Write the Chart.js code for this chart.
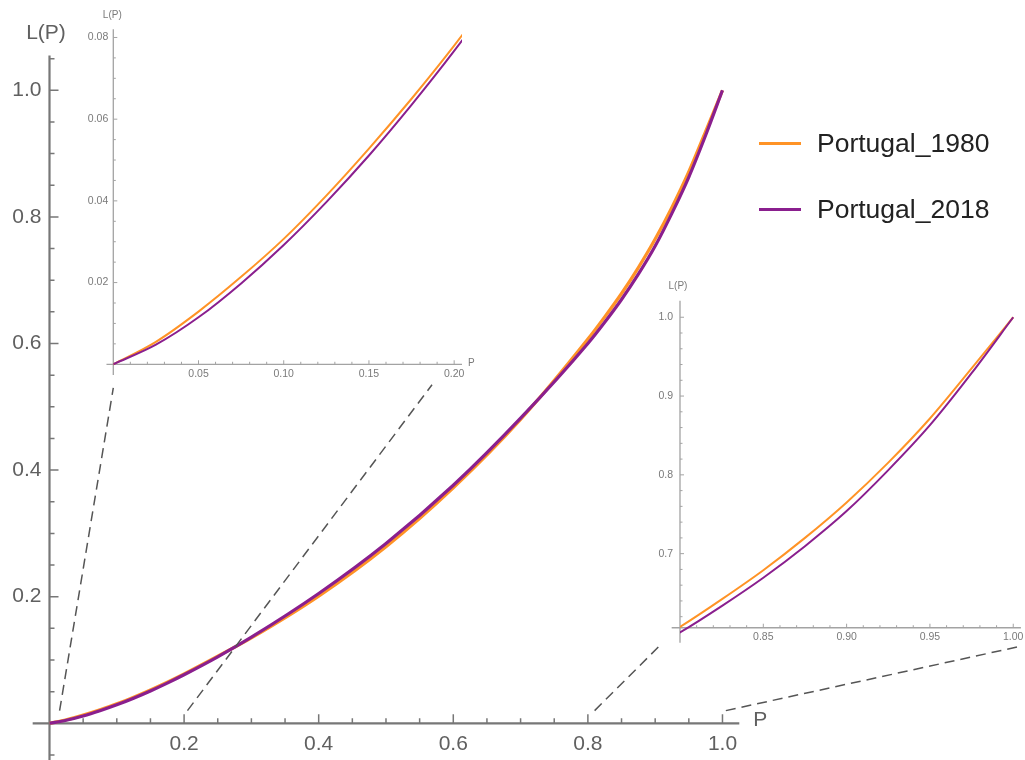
<!DOCTYPE html>
<html lang="en">
<head>
<meta charset="UTF-8">
<title>Lorenz curves - Portugal 1980 / 2018</title>
<script src="https://cdn.jsdelivr.net/npm/chart.js"></script>
<style>
  body { margin: 0; background: #fff; }
  #wrap { position: relative; width: 1025px; height: 760px; overflow: hidden; background: #fff; }
  #wrap canvas { position: absolute; }
  #legend { position: absolute; left: 759px; top: 110px; font-family: "Liberation Sans", Arial, sans-serif; font-size: 26.5px; color: #222; }
  #legend .item { display: flex; align-items: center; height: 66px; }
  #legend .swatch { width: 42px; height: 3px; margin-right: 16px; }
</style>
</head>
<body>
<div id="wrap">
  <canvas id="main" width="1025" height="760" style="left:0;top:0"></canvas>
  <canvas id="zoomLow" width="440" height="400" style="left:60px;top:0"></canvas>
  <canvas id="zoomHigh" width="405" height="390" style="left:620px;top:270px"></canvas>
  <div id="legend"></div>
</div>

<script>
    // cumulative population share P and cumulative income share L(P)
    const P = [0, 0.025, 0.05, 0.075, 0.1, 0.125, 0.15, 0.175, 0.2, 0.25, 0.3, 0.4, 0.5, 0.6, 0.7,
               0.8, 0.825, 0.85, 0.875, 0.9, 0.925, 0.95, 0.975, 1];
    const L_1980 = [0, 0.0055, 0.0129, 0.0214, 0.0307, 0.0413, 0.0528, 0.0650, 0.078, 0.106, 0.135, 0.201, 0.279, 0.372, 0.480,
                    0.607, 0.642, 0.679, 0.720, 0.765, 0.8155, 0.8715, 0.935, 1];
    const L_2018 = [0, 0.0048, 0.0115, 0.0198, 0.0292, 0.0397, 0.0511, 0.0635, 0.0767, 0.105, 0.136, 0.205, 0.284, 0.376, 0.482,
                    0.600, 0.6335, 0.6695, 0.7095, 0.754, 0.806, 0.863, 0.929, 1];

    const seriesNames = ['Portugal_1980', 'Portugal_2018'];
    const seriesColors = ['#ff9326', '#8a1f8e'];

    // labelled ticks
    const mainTicks = [0.2, 0.4, 0.6, 0.8, 1.0];
    const lowXTicks = [0.05, 0.10, 0.15, 0.20];
    const lowYTicks = [0.02, 0.04, 0.06, 0.08];
    const highXTicks = [0.85, 0.90, 0.95, 1.00];
    const highYTicks = [0.7, 0.8, 0.9, 1.0];

    const FONT = '"Liberation Sans", Arial, sans-serif';
    Chart.defaults.font.family = FONT;

    function steps(from, to, step) {
        const out = [];
        const n = Math.round((to - from) / step);
        for (let i = 0; i <= n; i++) out.push(+(from + i * step).toFixed(4));
        return out;
    }

    const isIn = (list, v) => list.some(m => Math.abs(m - v) < 1e-9);

    function makeDatasets(width) {
        return [L_1980, L_2018].map((ys, i) => ({
            label: seriesNames[i],
            data: P.map((p, k) => ({ x: p, y: ys[k] })),
            borderColor: seriesColors[i],
            borderWidth: width,
            pointRadius: 0,
            cubicInterpolationMode: 'monotone',
            order: 1 - i
        }));
    }

    // the y scale keeps a fixed box (its labels are clipped to it), the x scale takes no room;
    // no extra padding for labels at the ends, so the plot area is exactly what layout.padding says
    function makeScale(o) {
        return {
            type: 'linear',
            min: o.min,
            max: o.max,
            position: o.position,
            afterFit: s => {
                if (s.isHorizontal()) s.height = 0; else s.width = o.box || 0;
                s.paddingTop = s.paddingBottom = s.paddingLeft = s.paddingRight = 0;
            },
            afterBuildTicks: s => { s.ticks = o.all.map(v => ({ value: v })); },
            grid: { display: false, drawTicks: false, tickLength: 0 },
            border: { display: false },
            ticks: {
                autoSkip: false,
                maxRotation: 0,
                padding: o.pad,
                color: o.color,
                font: { size: o.size },
                callback: v => isIn(o.major, v) ? v.toFixed(o.digits) : ''
            }
        };
    }

    // axis lines, inward tick marks and axis names, Mathematica style
    const axesLook = {
        id: 'axesLook',
        beforeDatasetsDraw(chart, args, o) {
            const { ctx } = chart;
            const x = chart.scales.x, y = chart.scales.y;
            const x0 = x.getPixelForValue(o.cross[0]);
            const y0 = y.getPixelForValue(o.cross[1]);
            const xEnd = x.getPixelForValue(o.xSpan[1]);
            const yTop = y.getPixelForValue(o.ySpan[1]);
            ctx.save();
            ctx.strokeStyle = o.color;
            ctx.lineWidth = o.width;
            ctx.beginPath();
            ctx.moveTo(x.getPixelForValue(o.xSpan[0]), y0);
            ctx.lineTo(xEnd, y0);
            ctx.moveTo(x0, y.getPixelForValue(o.ySpan[0]));
            ctx.lineTo(x0, yTop);
            ctx.stroke();

            ctx.lineWidth = o.tickWidth;
            ctx.beginPath();
            x.ticks.forEach(t => {
                const px = x.getPixelForValue(t.value);
                const len = isIn(o.xMajor, t.value) ? o.major : o.minor;
                ctx.moveTo(px, y0);
                ctx.lineTo(px, y0 - len);
            });
            y.ticks.forEach(t => {
                const py = y.getPixelForValue(t.value);
                const len = isIn(o.yMajor, t.value) ? o.major : o.minor;
                ctx.moveTo(x0, py);
                ctx.lineTo(x0 + len, py);
            });
            ctx.stroke();

            ctx.fillStyle = o.titleColor;
            ctx.font = o.titleSize + 'px ' + FONT;
            ctx.textBaseline = 'middle';
            ctx.textAlign = 'center';
            ctx.fillText('L(P)', x0 + o.yTitle[0], yTop - o.yTitle[1]);
            if (o.xTitle) {
                ctx.textAlign = 'left';
                ctx.fillText('P', xEnd + o.xTitle[0], y0 + o.xTitle[1]);
            }
            ctx.restore();
        }
    };

    function baseOptions(padding) {
        return {
            responsive: false,
            animation: false,
            events: [],
            layout: { padding }
        };
    }

    const insetLabel = { pad: 4, size: 10.5, color: '#7a7a7a' };
    const insetAxes = { color: '#a3a3a3', width: 1.3, tickWidth: 1, major: 4, minor: 2.5, titleColor: '#7a7a7a', titleSize: 10 };

    // inset: poorest 20 %
    const zoomLow = new Chart(document.getElementById('zoomLow'), {
        type: 'line',
        data: { datasets: makeDatasets(2) },
        options: {
            ...baseOptions({ left: 8.3, right: 38, top: 29.3, bottom: 25.1 }),
            scales: {
                x: makeScale({ ...insetLabel, min: 0, max: 0.2046, position: { y: 0 }, all: steps(0.01, 0.2, 0.01),
                               major: lowXTicks, digits: 2 }),
                y: makeScale({ ...insetLabel, pad: 5, box: 45, min: -0.0026, max: 0.082, position: 'left',
                               all: steps(0.005, 0.08, 0.005), major: lowYTicks, digits: 2 })
            },
            plugins: {
                legend: { display: false }, tooltip: { enabled: false },
                axesLook: { ...insetAxes, cross: [0, 0], xSpan: [-0.004, 0.2046], ySpan: [-0.0026, 0.082],
                            xMajor: lowXTicks, yMajor: lowYTicks, yTitle: [-1, 14], xTitle: [6, -1] }
            }
        },
        plugins: [axesLook]
    });

    // inset: richest 20 %
    const zoomHigh = new Chart(document.getElementById('zoomHigh'), {
        type: 'line',
        data: { datasets: makeDatasets(2) },
        options: {
            ...baseOptions({ left: 15, right: 4.1, top: 30.7, bottom: 17.3 }),
            scales: {
                x: makeScale({ ...insetLabel, pad: 3, min: 0.8, max: 1.0046, position: { y: 0.606 }, all: steps(0.81, 1.0, 0.01),
                               major: highXTicks, digits: 2 }),
                y: makeScale({ ...insetLabel, pad: 7, box: 45, min: 0.587, max: 1.021, position: 'left',
                               all: steps(0.62, 1.0, 0.02), major: highYTicks, digits: 1 })
            },
            plugins: {
                legend: { display: false }, tooltip: { enabled: false },
                axesLook: { ...insetAxes, cross: [0.8, 0.606], xSpan: [0.795, 1.0046], ySpan: [0.587, 1.021],
                            xMajor: highXTicks, yMajor: highYTicks, yTitle: [-2, 14] }
            }
        },
        plugins: [axesLook]
    });

    // dashed guides from the zoomed corners of the main axes to the insets
    const guides = [
        { from: [0.015, 0.02], inset: zoomLow, to: [0, -0.0058] },
        { from: [0.205, 0.02], inset: zoomLow, to: [0.187, -0.005] },
        { from: [0.81, 0.02], inset: zoomHigh, to: [0.787, 0.5815] },
        { from: [1.005, 0.02], inset: zoomHigh, to: [1.0023, 0.5815] }
    ];

    const zoomGuides = {
        id: 'zoomGuides',
        afterDraw(chart) {
            const { ctx } = chart;
            ctx.save();
            ctx.strokeStyle = '#555';
            ctx.lineWidth = 1.5;
            ctx.setLineDash([10, 6]);
            guides.forEach(g => {
                const c = g.inset.canvas;
                ctx.beginPath();
                ctx.moveTo(chart.scales.x.getPixelForValue(g.from[0]), chart.scales.y.getPixelForValue(g.from[1]));
                ctx.lineTo(c.offsetLeft + g.inset.scales.x.getPixelForValue(g.to[0]),
                           c.offsetTop + g.inset.scales.y.getPixelForValue(g.to[1]));
                ctx.stroke();
            });
            ctx.restore();
        }
    };

    const mainChart = new Chart(document.getElementById('main'), {
        type: 'line',
        data: { datasets: makeDatasets(3.2) },
        options: {
            ...baseOptions({ left: 1.5, right: 285.7, top: 55.5, bottom: 0 }),
            scales: {
                x: makeScale({ min: 0, max: 1.025, position: { y: 0 }, all: steps(0.05, 1.0, 0.05), major: mainTicks,
                               digits: 1, pad: 8, size: 21, color: '#606060' }),
                y: makeScale({ min: -0.058, max: 1.055, position: 'left', box: 48, all: steps(-0.05, 1.05, 0.05),
                               major: mainTicks, digits: 1, pad: 8, size: 21, color: '#606060' })
            },
            plugins: {
                legend: { display: false }, tooltip: { enabled: false },
                axesLook: { cross: [0, 0], xSpan: [-0.025, 1.025], ySpan: [-0.058, 1.055], color: '#777', width: 2.2,
                            tickWidth: 1.5, major: 9, minor: 5, xMajor: mainTicks, yMajor: mainTicks,
                            titleColor: '#606060', titleSize: 21, yTitle: [-3.5, 22.5], xTitle: [14, -3] }
            }
        },
        plugins: [axesLook, zoomGuides]
    });

    // legend
    const legend = document.getElementById('legend');
    mainChart.data.datasets.forEach(ds => {
        const item = document.createElement('div');
        item.className = 'item';
        item.innerHTML = `<span class="swatch" style="background:${ds.borderColor}"></span><span>${ds.label}</span>`;
        legend.appendChild(item);
    });
</script>
</body>
</html>
